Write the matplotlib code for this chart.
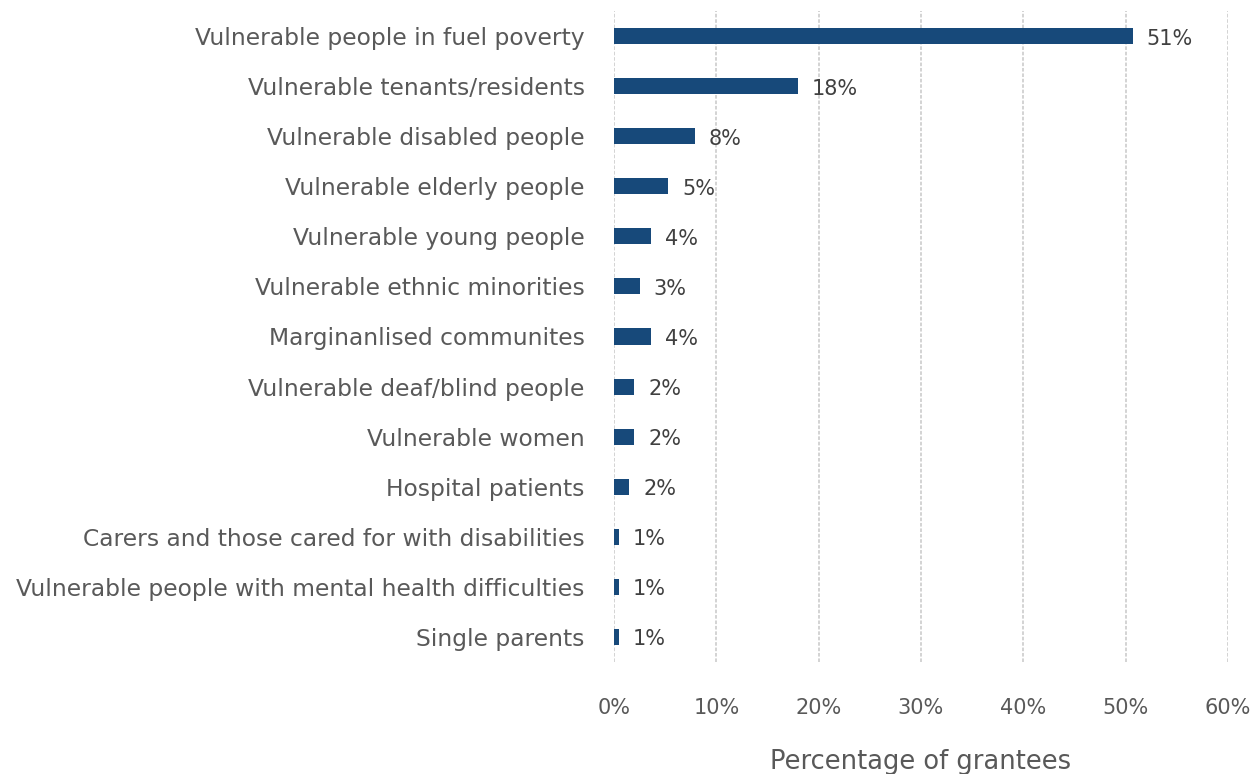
import math
import matplotlib
matplotlib.use("Agg")
import matplotlib.pyplot as plt
from matplotlib.ticker import FuncFormatter

groups = [
    "Vulnerable people in fuel poverty",
    "Vulnerable tenants/residents",
    "Vulnerable disabled people",
    "Vulnerable elderly people",
    "Vulnerable young people",
    "Vulnerable ethnic minorities",
    "Marginanlised communites",
    "Vulnerable deaf/blind people",
    "Vulnerable women",
    "Hospital patients",
    "Carers and those cared for with disabilities",
    "Vulnerable people with mental health difficulties",
    "Single parents",
]
share = [50.7, 18.0, 7.9, 5.3, 3.6, 2.5, 3.6, 2.0, 2.0, 1.5, 0.5, 0.5, 0.5]
xticks = [0, 10, 20, 30, 40, 50, 60]

bar_col = "#17497A"
txt_col = "#595959"

plt.rcParams["font.family"] = ["DejaVu Sans"]

fig = plt.figure(figsize=(12.6, 7.74), dpi=100)
ax = fig.add_axes([0.4873, 0.1447, 0.4873, 0.8411])

ypos = list(range(len(groups)))
ax.barh(ypos, share, height=0.32, color=bar_col, zorder=3)

# value labels, rounded half up
for y, v in zip(ypos, share):
    ax.text(v + 1.35, y + 0.05, f"{math.floor(v + 0.5)}%", va="center", ha="left",
            fontsize=15, color="#404040")

ax.set_yticks(ypos)
ax.set_yticklabels(groups)
ax.set_ylim(len(groups) - 0.5, -0.5)
ax.set_xlim(0, 60)
ax.set_xticks(xticks)
ax.xaxis.set_major_formatter(FuncFormatter(lambda v, _: f"{v:.0f}%"))

ax.grid(axis="x", color="#d0d0d0", linestyle=(0, (2, 1)), linewidth=1.3, zorder=0)
ax.grid(axis="y", visible=False)
for s in ax.spines.values():
    s.set_visible(False)

ax.tick_params(axis="y", length=0, pad=21, labelsize=16.8, labelcolor=txt_col)
ax.tick_params(axis="x", length=0, pad=26, labelsize=15, labelcolor=txt_col)
ax.set_xlabel("Percentage of grantees", fontsize=18.5, color=txt_col, labelpad=22)

fig.savefig("out.png", dpi=100)
